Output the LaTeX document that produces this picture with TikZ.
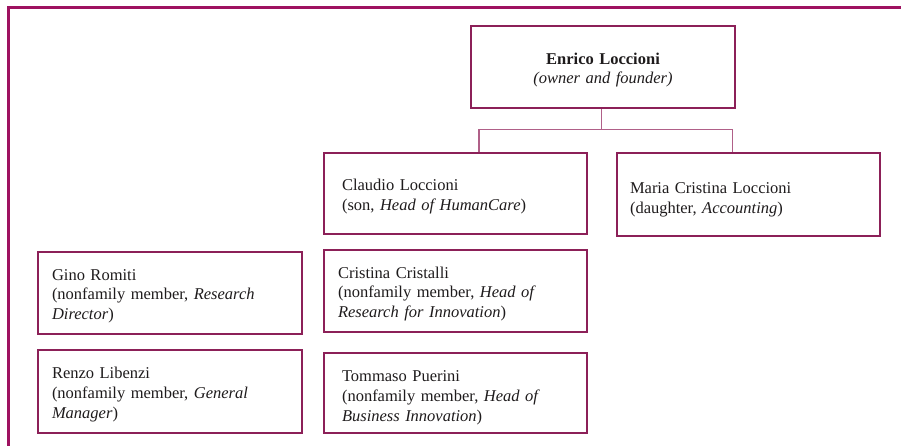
\documentclass[tikz,border=0pt]{standalone}
\usepackage{fontspec}
\setmainfont{Liberation Serif}
\usetikzlibrary{calc}
\definecolor{framecol}{RGB}{158,18,96}
\definecolor{boxcol}{RGB}{140,32,88}
\definecolor{linkcol}{RGB}{176,96,136}
\definecolor{txtcol}{RGB}{30,27,28}
\tikzset{
  orgbox/.style={draw=boxcol, line width=2.6pt, align=left, inner ysep=0pt,
    text=txtcol, font=\fontsize{16.5}{19.8}\selectfont},
  lower/.style={execute at begin node={\rule{0pt}{#1}}},
  link/.style={draw=linkcol, line width=1.2pt},
  framel/.style={draw=framecol, line width=3pt}
}
\begin{document}
\begin{tikzpicture}[x=1pt,y=-1pt]
\useasboundingbox (0,0) rectangle (901,446);
% frame
\coordinate (f1) at (8,446);
\coordinate (f2) at (8,7.5);
\coordinate (f3) at (901,7.5);
\draw[framel] (f1) -- (f2) -- (f3);
% boxes
\node[orgbox, align=center, minimum width=264pt, minimum height=82pt, text width=250pt, inner xsep=7pt, lower=17.5pt] (E) at (603,67)
  {\textbf{Enrico Loccioni}\\\textit{(owner and founder)}};
\node[orgbox, minimum width=263pt, minimum height=81pt, text width=227pt, inner xsep=18pt, lower=17.5pt] (C) at (455.5,193.5)
  {Claudio Loccioni\\(son, \textit{Head of HumanCare})};
\node[orgbox, minimum width=263pt, minimum height=83pt, text width=237pt, inner xsep=13pt, lower=21.5pt] (M) at (748.5,194.5)
  {Maria Cristina Loccioni\\(daughter, \textit{Accounting})};
\node[orgbox, minimum width=264pt, minimum height=82pt, text width=236pt, inner xsep=14pt, lower=17.5pt] (G) at (170,293)
  {Gino Romiti\\(nonfamily member, \textit{Research}\\\textit{Director})};
\node[orgbox, minimum width=264pt, minimum height=83pt, text width=236pt, inner xsep=14pt, lower=17.5pt] (R) at (170,391.5)
  {Renzo Libenzi\\(nonfamily member, \textit{General}\\\textit{Manager})};
\node[orgbox, minimum width=263pt, minimum height=82pt, text width=235pt, inner xsep=14pt, lower=17.5pt] (CC) at (455.5,291)
  {Cristina Cristalli\\(nonfamily member, \textit{Head of}\\\textit{Research for Innovation})};
\node[orgbox, minimum width=263pt, minimum height=80pt, text width=227pt, inner xsep=18pt, lower=20.5pt] (T) at (455.5,393)
  {Tommaso Puerini\\(nonfamily member, \textit{Head of}\\\textit{Business Innovation})};
% connectors
\coordinate (j) at ($([xshift=-1.3pt]E.south)+(0,20)$);
\draw[link] ([xshift=-1.3pt]E.south) -- (j);
\draw[link] ([xshift=23.5pt]C.north) |- (j) -| ([xshift=-16.2pt]M.north);
\end{tikzpicture}
\end{document}
